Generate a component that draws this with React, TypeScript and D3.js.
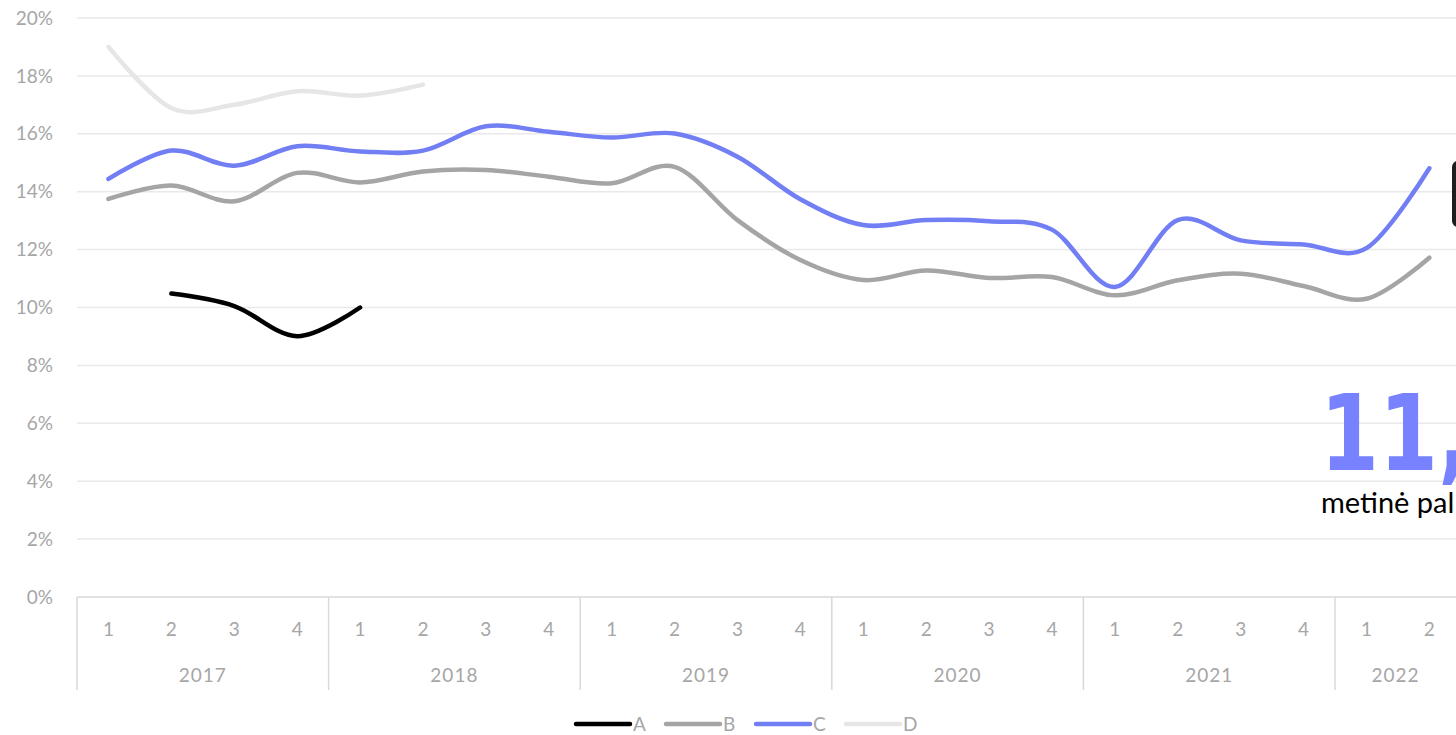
import React from 'react';
import * as d3 from 'd3';

const years = ['2017', '2018', '2019', '2020', '2021', '2022'];
const quartersPerYear = [
  ['1', '2', '3', '4'],
  ['1', '2', '3', '4'],
  ['1', '2', '3', '4'],
  ['1', '2', '3', '4'],
  ['1', '2', '3', '4'],
  ['1', '2'],
];
const yTicks = [0, 2, 4, 6, 8, 10, 12, 14, 16, 18, 20];

const seriesA = [null, 10.48, 10.05, 9.01, 10.0, null, null, null, null, null, null, null, null, null, null, null, null, null, null, null, null, null];
const seriesB = [13.75, 14.21, 13.67, 14.65, 14.32, 14.7, 14.75, 14.52, 14.29, 14.86, 13.02, 11.64, 10.95, 11.28, 11.02, 11.05, 10.42, 10.94, 11.17, 10.74, 10.3, 11.72];
const seriesC = [14.44, 15.42, 14.9, 15.57, 15.39, 15.42, 16.26, 16.07, 15.87, 16.01, 15.21, 13.74, 12.85, 13.02, 12.98, 12.69, 10.71, 13.02, 12.32, 12.18, 12.05, 14.81];
const seriesD = [19.0, 16.89, 17.0, 17.47, 17.32, 17.7, null, null, null, null, null, null, null, null, null, null, null, null, null, null, null, null];

const seriesNames = ['A', 'B', 'C', 'D'];
const seriesColors = ['#000000', '#a5a5a5', '#727ef4', '#e6e6e6'];

const bigValue = '11,';
const bigLabel = 'metinė pal';

const W = 1456;
const H = 735;
const FONT = 'Lato, "Open Sans", sans-serif';

export default function App() {
  const categories = years.flatMap((yr, k) => quartersPerYear[k].map((q) => ({ yr, q })));
  const left = 77;
  const step = 62.9;
  const x = d3
    .scaleBand<number>()
    .domain(d3.range(categories.length))
    .range([left, left + step * categories.length])
    .padding(0);
  const cx = (i: number) => (x(i) as number) + x.bandwidth() / 2;
  const y = d3.scaleLinear().domain([0, 20]).range([597, 18]);

  const line = d3
    .line<number | null>()
    .defined((d) => d !== null)
    .x((_, i) => cx(i))
    .y((d) => y(d as number))
    .curve(d3.curveCatmullRom.alpha(0));

  const allSeries = [seriesA, seriesB, seriesC, seriesD];
  const axisY = y(0);
  const gridRight = left + step * categories.length;

  const yearStarts: number[] = [];
  let acc = 0;
  quartersPerYear.forEach((qs) => {
    yearStarts.push(acc);
    acc += qs.length;
  });

  return (
    <svg
      width={W}
      height={H}
      style={{ position: 'absolute', left: 0, top: 0, background: '#fff' }}
      fontFamily={FONT}
    >
      <rect x={0} y={0} width={W} height={H} fill="#ffffff" />
      {/* gridlines */}
      {yTicks.map((t) => (
        <line key={'g' + t} x1={left} x2={gridRight} y1={y(t)} y2={y(t)} stroke={t === 0 ? '#d9d9d9' : '#e9e9e9'} strokeWidth={1.5} />
      ))}
      {/* y labels */}
      {yTicks.map((t) => (
        <text key={'yl' + t} x={53} y={y(t)} dy="0.35em" textAnchor="end" fontSize={19} fill="#a6a6a6">
          {t + '%'}
        </text>
      ))}
      {/* category axis separators */}
      {yearStarts.map((s, k) => {
        const xs = x(s) as number;
        return <line key={'sep' + k} x1={xs} x2={xs} y1={axisY} y2={690} stroke="#d9d9d9" strokeWidth={1.5} />;
      })}
      {categories.map((c, i) => (
        <text key={'q' + i} x={cx(i)} y={629} dy="0.35em" textAnchor="middle" fontSize={19} fill="#a6a6a6">
          {c.q}
        </text>
      ))}
      {years.map((yr, k) => {
        const s = yearStarts[k];
        const x0 = x(s) as number;
        const x1 = (x(s + quartersPerYear[k].length - 1) as number) + x.bandwidth();
        return (
          <text key={'yr' + yr} x={(Math.min(x1, W) + x0) / 2} y={675} dy="0.35em" textAnchor="middle" fontSize={19} fill="#a6a6a6" letterSpacing={1}>
            {yr}
          </text>
        );
      })}
      {/* lines */}
      {allSeries.map((s, k) => (
        <path key={'s' + k} d={line(s) || ''} fill="none" stroke={seriesColors[k]} strokeWidth={4.5} strokeLinecap="round" strokeLinejoin="round" />
      ))}
      {/* annotation */}
      <rect x={1452} y={161} width={40} height={66} rx={6} fill="#1e1e1e" />
      <g transform="translate(1320,470) scale(0.8,1)">
        <text x={0} y={0} fontSize={106} fontWeight={700} fontFamily='"DejaVu Sans", sans-serif' fill="#7882ff">
          {bigValue}
        </text>
      </g>
      <text x={1321} y={513} fontSize={29} fill="#000000">
        {bigLabel}
      </text>
      {/* legend */}
      {seriesNames.map((n, k) => {
        const lx = 576 + k * 90;
        return (
          <g key={'lg' + n}>
            <line x1={lx} x2={lx + 54} y1={724} y2={724} stroke={seriesColors[k]} strokeWidth={4.5} strokeLinecap="round" />
            <text x={lx + 57} y={724} dy="0.35em" fontSize={19} fill="#a6a6a6">
              {n}
            </text>
          </g>
        );
      })}
    </svg>
  );
}
